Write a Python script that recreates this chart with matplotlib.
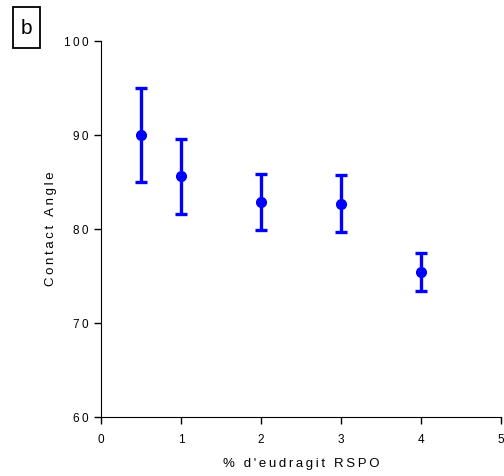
import numpy as np
import matplotlib.pyplot as plt
from matplotlib.patches import Rectangle

plt.rcParams['font.family'] = ['Liberation Sans', 'DejaVu Sans']

# % eudragit RSPO vs contact angle (mean, error)
eudragit = [0.5, 1, 2, 3, 4]
angle = [90.0, 85.6, 82.9, 82.7, 75.4]
err = [5.0, 4.0, 3.0, 3.0, 2.0]
xticks = [0, 1, 2, 3, 4, 5]
yticks = [60, 70, 80, 90, 100]


def spaced(s):
    # the original uses wide letter spacing
    return '\u2009'.join(s)


fig = plt.figure(figsize=(5.04, 4.76), dpi=100)
ax = fig.add_axes([101/504, 1-417/476, 400/504, 376/476])

ax.errorbar(eudragit, angle, yerr=err, fmt='o', color='#0000ff', ms=7,
            elinewidth=2.4, capsize=4, capthick=2.4, clip_on=False)

ax.set_xlim(0, 5)
ax.set_ylim(60, 100)
ax.set_xticks(xticks)
ax.set_xticklabels([spaced(str(t)) for t in xticks])
ax.set_yticks(yticks)
ax.set_yticklabels([spaced(str(t)) for t in yticks])
for s in ['top', 'right']:
    ax.spines[s].set_visible(False)
ax.tick_params(direction='out', length=5, width=1, labelsize=8.5, pad=4)
ax.tick_params(axis='x', pad=7)

ax.set_xlabel(spaced("% d'eudragit RSPO"), fontsize=9.5, labelpad=9)
ax.set_ylabel(spaced("Contact Angle"), fontsize=9.5, labelpad=5)

fig.patches.append(Rectangle((13/504, 1-48/476), 27/504, 41/476,
                             transform=fig.transFigure, fill=False,
                             ec='black', lw=1.3))
fig.text(26.5/504, 1-29/476, 'b', fontsize=15, ha='center', va='center')

fig.savefig('out.png', dpi=100)
